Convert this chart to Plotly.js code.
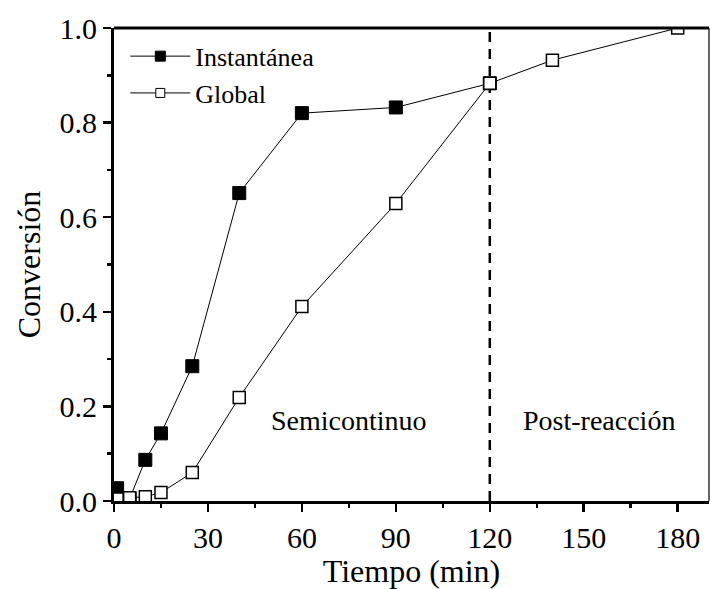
<!DOCTYPE html>
<html>
<head>
<meta charset="utf-8">
<script src="https://cdn.plot.ly/plotly-3.0.1.min.js"></script>
<style>html,body{margin:0;padding:0;background:#fff;}#chart{width:710px;height:589px;}</style>
</head>
<body>
<div id="chart"></div>
<script>
// Data
const tiempoInst = [1, 5, 10, 15, 25, 40, 60, 90, 120];
const convInst   = [0.027, 0.005, 0.087, 0.143, 0.285, 0.651, 0.820, 0.832, 0.883];
const tiempoGlob = [1, 5, 10, 15, 25, 40, 60, 90, 120, 140, 180];
const convGlob   = [0.004, 0.007, 0.009, 0.018, 0.060, 0.219, 0.411, 0.629, 0.883, 0.932, 1.0];
const xTicks = [0, 30, 60, 90, 120, 150, 180];
const yTicks = [0.0, 0.2, 0.4, 0.6, 0.8, 1.0];
const yTickText = ['0.0', '0.2', '0.4', '0.6', '0.8', '1.0'];
const limiteSemicontinuo = 120;
const regiones = [
  {texto: 'Semicontinuo', x: 75, y: 0.17},
  {texto: 'Post-reacción', x: 155, y: 0.17}
];

const FONT = '"Liberation Serif", "Times New Roman", serif';

const traces = [
  {
    x: tiempoInst, y: convInst, type: 'scatter', mode: 'lines+markers',
    name: 'Instantánea', showlegend: false,
    line: {color: '#000', width: 1},
    marker: {symbol: 'square', size: 13, color: '#000', line: {color: '#000', width: 1}}
  },
  {
    x: tiempoGlob, y: convGlob, type: 'scatter', mode: 'lines+markers',
    name: 'Global', showlegend: false,
    line: {color: '#000', width: 1},
    marker: {symbol: 'square', size: 12, color: '#fff', line: {color: '#000', width: 1.5}}
  },
  {
    x: [null], y: [null], type: 'scatter', mode: 'lines+markers', name: 'Instantánea',
    line: {color: '#000', width: 1},
    marker: {symbol: 'square', size: 10, color: '#000', line: {color: '#000', width: 1}}
  },
  {
    x: [null], y: [null], type: 'scatter', mode: 'lines+markers', name: 'Global',
    line: {color: '#000', width: 1},
    marker: {symbol: 'square', size: 9, color: '#fff', line: {color: '#000', width: 1}}
  }
];

const layout = {
  width: 710, height: 589,
  margin: {l: 114, r: 1, t: 28, b: 88},
  paper_bgcolor: '#fff', plot_bgcolor: '#fff',
  font: {family: FONT, color: '#000', size: 30},
  showlegend: true,
  legend: {
    x: 0.019, y: 0.99, xanchor: 'left', yanchor: 'top',
    bgcolor: 'rgba(0,0,0,0)', borderwidth: 0,
    font: {family: FONT, size: 26, color: '#000'},
    tracegroupgap: 0, itemwidth: 60
  },
  xaxis: {
    range: [0, 190], tickmode: 'array', tickvals: xTicks,
    ticks: 'outside', ticklen: 8, tickwidth: 2.5, tickcolor: '#000',
    minor: {dtick: 15, tick0: 0, ticks: 'outside', ticklen: 4, tickwidth: 2.5, tickcolor: '#000', showgrid: false},
    showline: true, linewidth: 3, linecolor: '#000', showgrid: false, zeroline: false,
    tickfont: {family: FONT, size: 30, color: '#000'},
    title: {text: 'Tiempo (min)', font: {family: FONT, size: 32, color: '#000'}, standoff: 8}
  },
  yaxis: {
    range: [0, 1], tickmode: 'array', tickvals: yTicks, ticktext: yTickText,
    ticks: 'outside', ticklen: 8, tickwidth: 2.5, tickcolor: '#000',
    minor: {dtick: 0.1, tick0: 0, ticks: 'outside', ticklen: 4, tickwidth: 2.5, tickcolor: '#000', showgrid: false},
    showline: true, linewidth: 3, linecolor: '#000', showgrid: false, zeroline: false,
    tickfont: {family: FONT, size: 30, color: '#000'},
    title: {text: 'Conversión', font: {family: FONT, size: 32, color: '#000'}, standoff: 10}
  },
  shapes: [
    {type: 'line', xref: 'x', yref: 'paper', x0: limiteSemicontinuo, x1: limiteSemicontinuo, y0: 0, y1: 1,
     line: {color: '#000', width: 2.5, dash: '10px,7px'}, layer: 'below'},
    {type: 'line', xref: 'paper', yref: 'paper', x0: 0, x1: 1, y0: 1, y1: 1, line: {color: '#000', width: 3}},
    {type: 'line', xref: 'paper', yref: 'paper', x0: 1, x1: 1, y0: 0, y1: 1, line: {color: '#000', width: 1.2}}
  ],
  annotations: regiones.map(r => ({
    x: r.x, y: r.y, xref: 'x', yref: 'y', text: r.texto, showarrow: false,
    font: {family: FONT, size: 28, color: '#000'}
  }))
};

Plotly.newPlot('chart', traces, layout, {staticPlot: true, displayModeBar: false});
</script>
</body>
</html>
